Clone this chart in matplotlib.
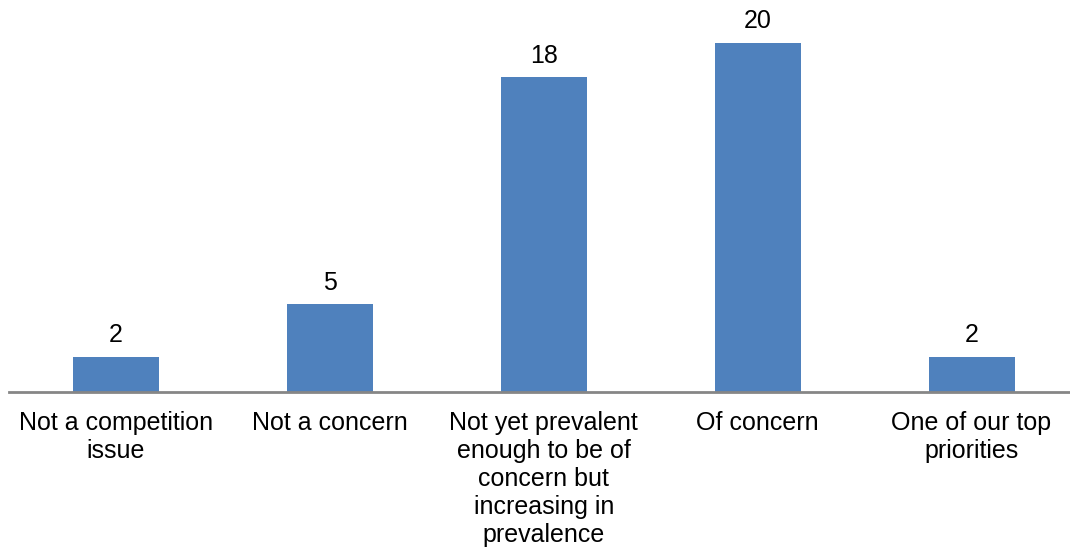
import matplotlib.pyplot as plt

plt.rcParams['font.family'] = ['Liberation Sans', 'DejaVu Sans']

categories = [
    'Not a competition\nissue',
    'Not a concern',
    'Not yet prevalent\nenough to be of\nconcern but\nincreasing in\nprevalence',
    'Of concern',
    'One of our top\npriorities',
]
counts = [2, 5, 18, 20, 2]

fig = plt.figure(figsize=(10.7, 5.5), dpi=100)
# axes spans the category slots; baseline sits at y=391 px
ax = fig.add_axes([9 / 1070, (550 - 391.5) / 550, 1069.5 / 1070, 391.5 / 550])

x = range(len(categories))
bars = ax.bar(x, counts, width=0.402, color='#4F81BD', zorder=2)

for b, v in zip(bars, counts):
    ax.annotate(str(v), (b.get_x() + b.get_width() / 2, v),
                xytext=(0, 7), textcoords='offset points',
                ha='center', va='bottom', fontsize=18)

ax.set_xlim(-0.5, len(categories) - 0.5)
ax.set_ylim(0, 391.5 / 17.45)
ax.set_xticks(list(x))
ax.set_xticklabels(categories, fontsize=18, linespacing=1.21)
ax.tick_params(axis='x', length=0, pad=14)
ax.set_yticks([])

for side in ['top', 'left', 'right']:
    ax.spines[side].set_visible(False)
ax.spines['bottom'].set_color('#868686')
ax.spines['bottom'].set_linewidth(2)
ax.patch.set_visible(False)

fig.savefig('out.png', dpi=100)
